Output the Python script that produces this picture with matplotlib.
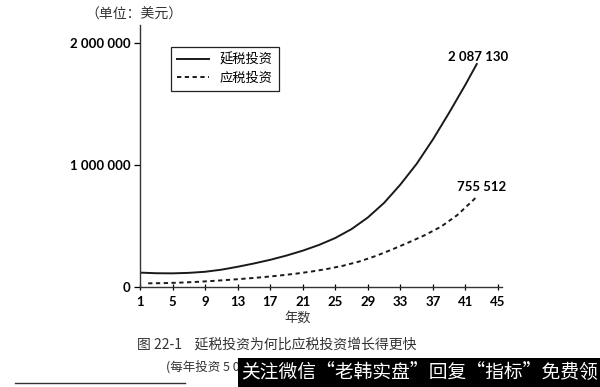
import matplotlib
matplotlib.use("Agg")
from matplotlib import pyplot as plt
import numpy as np

plt.rcParams['font.family'] = ['Noto Sans CJK SC', 'DejaVu Sans']

# 年数 / 数值（百万美元）
years_deferred = [1, 3, 5, 7, 9, 11, 13, 15, 17, 19, 21, 23, 25, 27, 29, 31, 33, 35, 37, 39, 41, 42.4]
deferred = [0.118, 0.113, 0.112, 0.116, 0.125, 0.142, 0.166, 0.193, 0.223, 0.258, 0.298,
            0.345, 0.402, 0.475, 0.570, 0.690, 0.840, 1.010, 1.210, 1.430, 1.660, 1.830]

years_taxed = [2, 4, 6, 8, 10, 12, 14, 16, 18, 20, 22, 24, 26, 28, 30, 32, 34, 36, 38, 40, 42, 42.5]
taxed = [0.030, 0.032, 0.036, 0.042, 0.050, 0.059, 0.069, 0.080, 0.093, 0.108, 0.126,
         0.148, 0.175, 0.210, 0.255, 0.308, 0.365, 0.425, 0.495, 0.590, 0.715, 0.750]

xticks = list(range(1, 46, 4))
yticks = [0, 1000000, 2000000]
ytick_labels = ["0", "1 000 000", "2 000 000"]

end_labels = ["2 087 130", "755 512"]

fig = plt.figure(figsize=(6, 3.87), dpi=100)
ax = fig.add_axes([140 / 600, 100 / 387, 362 / 600, 262 / 387])

ax.plot(years_deferred, np.array(deferred) * 1e6, color="#1a1a1a", lw=1.4, label="延税投资")
ax.plot(years_taxed, np.array(taxed) * 1e6, color="#1a1a1a", lw=1.4,
        linestyle=(0, (2.2, 1.8)), label="应税投资")

ax.set_xlim(1, 45.5)
ax.set_ylim(0, 2150000)
ax.set_xticks(xticks)
ax.set_xticklabels([str(t) for t in xticks], fontsize=9.5, fontweight="bold", family=["Lato", "DejaVu Sans"])
ax.set_yticks(yticks)
ax.set_yticklabels(ytick_labels, fontsize=9.5, fontweight="bold", family=["Lato", "DejaVu Sans"])
ax.tick_params(axis="x", direction="inout", length=5, width=0.9, pad=4)
ax.tick_params(axis="y", direction="out", length=4, width=0.9, pad=3)

for s in ["top", "right"]:
    ax.spines[s].set_visible(False)
for s in ["left", "bottom"]:
    ax.spines[s].set_color("#333333")
    ax.spines[s].set_linewidth(1.0)

ax.text(42.6, 1885000, end_labels[0], ha="center", va="center", fontsize=9.5,
        family=["Lato", "DejaVu Sans"], fontweight="bold")
ax.text(43.0, 820000, end_labels[1], ha="center", va="center", fontsize=9.5,
        family=["Lato", "DejaVu Sans"], fontweight="bold")

leg = ax.legend(loc="upper left", bbox_to_anchor=(164 / 600, 1 - 40 / 387),
                bbox_transform=fig.transFigure, fancybox=False, edgecolor="#222222",
                fontsize=9.5, handlelength=2.4, borderpad=0.5, labelspacing=0.4,
                framealpha=1)
leg.get_frame().set_linewidth(0.9)

fig.text(134 / 600, 1 - 15 / 387, "（单位：美元）", ha="center", va="center", fontsize=10, color="#333333")
fig.text(298 / 600, 1 - 318 / 387, "年数", ha="center", va="center", fontsize=9.5, color="#333333")
fig.text(137 / 600, 1 - 345 / 387, "图 22-1    延税投资为何比应税投资增长得更快", ha="left", va="center",
         fontsize=10, color="#333333")
fig.text(166 / 600, 1 - 367 / 387, "(每年投资 5 0", ha="left", va="center",
         fontsize=9, color="#333333")

fig.add_artist(plt.Line2D([15 / 600, 185 / 600], [1 - 383 / 387, 1 - 383 / 387],
                          transform=fig.transFigure, color="#333333", lw=1.0))

# 水印黑框
fig.add_artist(plt.Rectangle((238 / 600, 0), 362 / 600, 29 / 387, transform=fig.transFigure,
                             facecolor="black", edgecolor="none", zorder=10))
fig.text(419 / 600, 14.5 / 387, "关注微信“老韩实盘”回复“指标”免费领", ha="center", va="center",
         fontsize=13.5, color="white", zorder=11)

plt.savefig("out.png", dpi=100)
